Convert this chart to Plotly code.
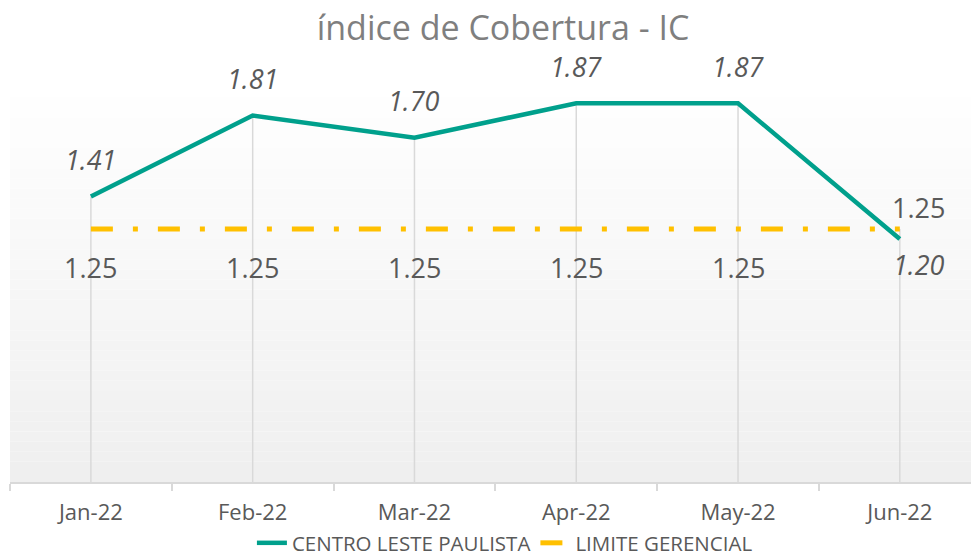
import plotly.graph_objects as go

months = ["Jan-22", "Feb-22", "Mar-22", "Apr-22", "May-22", "Jun-22"]
centro_leste = [1.41, 1.81, 1.70, 1.87, 1.87, 1.20]
limite_gerencial = [1.25, 1.25, 1.25, 1.25, 1.25, 1.25]

series_names = ["CENTRO LESTE PAULISTA", "LIMITE GERENCIAL"]

TEAL = "#00A08C"
YELLOW = "#FFC000"
LABEL = "#595959"
FONT = "Open Sans"

W, H = 971, 556

fig = go.Figure()

# gradient plot-area background
n = 40
for i in range(n):
    t = i / (n - 1)
    c = int(round(239 + (255 - 239) * t))
    fig.add_shape(type="rect", xref="x domain", yref="y domain",
                  x0=0, x1=1, y0=i / n, y1=(i + 1) / n,
                  fillcolor=f"rgb({c},{c},{c})", line=dict(width=0), layer="below")

# drop lines from the highest value of each category down to the axis
dx, dy = [], []
for m, a, b in zip(months, centro_leste, limite_gerencial):
    dx += [m, m, None]
    dy += [max(a, b), 0, None]
fig.add_trace(go.Scatter(x=dx, y=dy, mode="lines", line=dict(color="#D9D9D9", width=1.5),
                         showlegend=False, hoverinfo="skip"))

fig.add_trace(go.Scatter(x=months, y=limite_gerencial, mode="lines", name=series_names[1],
                         line=dict(color=YELLOW, width=5, dash="22px,20px,5px,20px")))
fig.add_trace(go.Scatter(x=months, y=centro_leste, mode="lines", name=series_names[0],
                         line=dict(color=TEAL, width=4.5)))

# data labels
teal_shift = [37, 37, 37, 37, 37, -25]
teal_xshift = [0, 0, 0, 0, 0, 19]
yel_shift = [-39, -39, -39, -39, -39, 21]
yel_xshift = [0, 0, 0, 0, 0, 19]
for i, m in enumerate(months):
    fig.add_annotation(x=m, y=centro_leste[i], text=f"{centro_leste[i]:.2f}", showarrow=False,
                       yshift=teal_shift[i], xshift=teal_xshift[i],
                       font=dict(family=FONT, size=27, color=LABEL, style="italic"))
    fig.add_annotation(x=m, y=limite_gerencial[i], text=f"{limite_gerencial[i]:.2f}", showarrow=False,
                       yshift=yel_shift[i], xshift=yel_xshift[i],
                       font=dict(family=FONT, size=27, color=LABEL))

fig.update_layout(
    width=W, height=H,
    margin=dict(l=10, r=0, t=77, b=74, autoexpand=False),
    paper_bgcolor="white", plot_bgcolor="white",
    title=dict(text="índice de Cobertura - IC", x=503 / W, xref="container", xanchor="center",
               y=1 - 28 / H, yref="container", yanchor="middle",
               font=dict(family=FONT, size=34, color="#7F7F7F")),
    legend=dict(orientation="h", x=0.515, xanchor="center", y=-61 / 405,
                yanchor="middle", font=dict(family=FONT, size=20.5, color=LABEL),
                traceorder="reversed", bgcolor="rgba(0,0,0,0)"),
    xaxis=dict(type="category", range=[-0.5, 5.44], showgrid=False, zeroline=False,
               showline=True, linecolor="#D9D9D9", linewidth=1.5, automargin=False,
               ticks="outside", tickson="boundaries", ticklen=7, tickcolor="#D9D9D9", tickwidth=1.5,
               ticklabelstandoff=10,
               tickfont=dict(family=FONT, size=22, color=LABEL)),
    yaxis=dict(range=[0, 2], showgrid=False, zeroline=False, showticklabels=False, showline=False,
               automargin=False),
)

fig.write_html("out.html", config={"displayModeBar": False},
               post_script="document.body.style.margin='0';document.body.style.overflow='hidden';")
